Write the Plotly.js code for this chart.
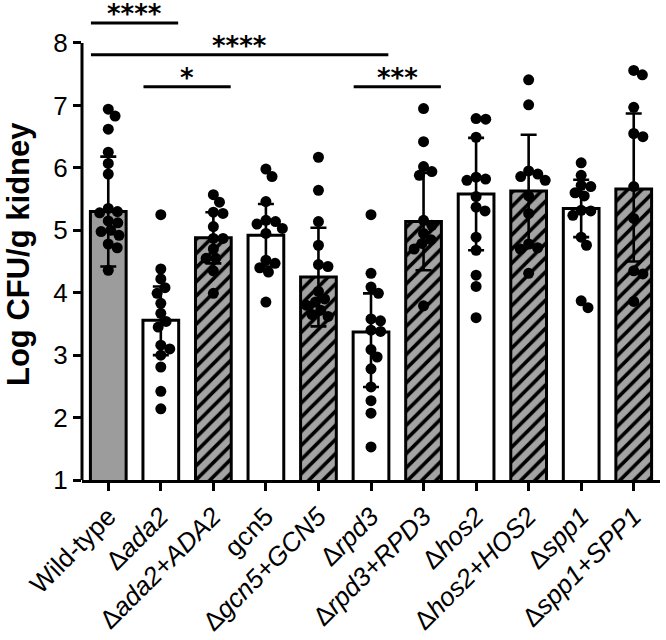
<!DOCTYPE html>
<html>
<head>
<meta charset="utf-8">
<script src="https://cdn.plot.ly/plotly-3.0.1.min.js"></script>
<style>html,body{margin:0;padding:0;background:#fff;}#chart{width:666px;height:640px;}</style>
</head>
<body>
<div id="chart"></div>
<script>
// ---------- data ----------
const strains = ['Wild-type','Δada2','Δada2+ADA2','gcn5','Δgcn5+GCN5','Δrpd3','Δrpd3+RPD3','Δhos2','Δhos2+HOS2','Δspp1','Δspp1+SPP1'];
const tickLabels = ['Wild-type','Δ<i>ada2</i>','Δ<i>ada2+ADA2</i>','gcn5','Δ<i>gcn5+GCN5</i>','Δ<i>rpd3</i>','Δ<i>rpd3+RPD3</i>','Δ<i>hos2</i>','Δ<i>hos2+HOS2</i>','Δ<i>spp1</i>','Δ<i>spp1+SPP1</i>'];
const strainKind = ['wt','del','comp','del','comp','del','comp','del','comp','del','comp'];
const means   = [5.30, 3.56, 4.88, 4.92, 4.25, 3.37, 5.14, 5.58, 5.63, 5.35, 5.66];
const sdUp    = [0.88, 0.54, 0.41, 0.50, 0.79, 0.62, 0.78, 0.90, 0.90, 0.46, 1.21];
const sdDown  = [0.88, 0.56, 0.41, 0.50, 0.79, 0.88, 0.78, 0.90, 0.90, 0.46, 1.16];

const ptsWildType = [6.94, 6.83, 6.62, 6.25, 6.07, 5.90, 5.35, 5.30, 5.28, 5.15, 5.12, 5.00, 4.98, 4.92, 4.78, 4.72, 4.36];
const ptsAda2     = [5.25, 4.38, 4.22, 4.08, 3.99, 3.83, 3.67, 3.54, 3.45, 3.16, 3.10, 3.00, 2.81, 2.42, 2.14];
const ptsAda2C    = [5.57, 5.45, 5.29, 5.27, 5.06, 4.87, 4.87, 4.70, 4.55, 4.55, 4.35, 3.99];
const ptsGcn5     = [5.98, 5.86, 5.46, 5.16, 5.14, 5.10, 5.03, 4.95, 4.52, 4.47, 4.40, 4.33, 3.85];
const ptsGcn5C    = [6.17, 5.64, 5.14, 4.76, 4.45, 4.42, 4.02, 3.90, 3.85, 3.80, 3.72, 3.65, 3.62];
const ptsRpd3     = [5.25, 4.31, 4.09, 3.99, 3.58, 3.55, 3.40, 3.38, 3.09, 2.97, 2.78, 2.49, 2.27, 2.07, 1.53];
const ptsRpd3C    = [6.95, 6.42, 6.02, 5.94, 5.88, 5.16, 5.08, 4.95, 4.85, 4.79, 4.70, 3.79];
const ptsHos2     = [6.79, 6.78, 6.49, 5.85, 5.82, 5.80, 5.54, 5.37, 5.31, 4.89, 4.68, 4.28, 4.10, 3.60];
const ptsHos2C    = [7.41, 7.01, 5.95, 5.90, 5.86, 5.80, 5.55, 5.27, 4.78, 4.72, 4.70, 4.31];
const ptsSpp1     = [6.08, 5.88, 5.72, 5.70, 5.60, 5.55, 5.32, 5.31, 5.24, 4.89, 4.76, 3.87, 3.76];
const ptsSpp1C    = [7.56, 7.49, 6.97, 6.55, 6.50, 5.70, 5.19, 4.35, 4.30, 3.86];
const points = [ptsWildType, ptsAda2, ptsAda2C, ptsGcn5, ptsGcn5C, ptsRpd3, ptsRpd3C, ptsHos2, ptsHos2C, ptsSpp1, ptsSpp1C];

// significance comparisons: [group a, group b], bracket level (log CFU), label
const sigPairs  = [[0,1],[0,5],[1,2],[5,6]];
const sigLevels = [8.32, 7.81, 7.30, 7.30];
const sigLabels = ['****','****','*','***'];

// ---------- layout constants ----------
const W = 666, H = 640;
const M = {l: 82, r: 6, t: 0, b: 160};
const plotW = W - M.l - M.r, plotH = H - M.t - M.b;
const xRange = [-0.5, strains.length - 0.5];
const pxPerUnitY = 62.43;
const yRange = [1, 1 + plotH / pxPerUnitY];
const pxPerUnitX = plotW / (xRange[1] - xRange[0]);
const barWidth = 0.68;
const dotD = 11;
const FONT = 'Liberation Sans, Arial, sans-serif';

// beeswarm layout (pixel space) to spread overlapping dots horizontally
function swarm(vals) {
  const placed = [], offs = [];
  const D = dotD * 0.88;
  vals.forEach(v => {
    const y = v * pxPerUnitY;
    const cands = [0];
    placed.forEach(p => {
      const dy = Math.abs(p.y - y);
      if (dy < D) { const dx = Math.sqrt(D * D - dy * dy); cands.push(p.x + dx, p.x - dx); }
    });
    cands.sort((a, b) => Math.abs(a) - Math.abs(b) || b - a);
    let best = 0;
    for (const c of cands) {
      if (placed.every(p => (p.x - c) ** 2 + (p.y - y) ** 2 >= D * D - 1e-6)) { best = c; break; }
    }
    placed.push({x: best, y});
    offs.push(best / pxPerUnitX);
  });
  return offs;
}

const idx = strains.map((_, i) => i);
const traces = [];
const kindStyle = {
  wt:   {color: '#9c9c9c'},
  del:  {color: '#ffffff'},
  comp: {color: '#a4a4a4', pattern: {shape: '/', fillmode: 'overlay', fgcolor: '#000', fgopacity: 1, size: 10, solidity: 0.36}}
};
['wt', 'del', 'comp'].forEach(kind => {
  const sel = idx.filter(i => strainKind[i] === kind);
  const st = kindStyle[kind];
  const marker = {color: st.color, line: {color: '#000', width: 3}};
  if (st.pattern) marker.pattern = st.pattern;
  traces.push({
    type: 'bar', x: sel, y: sel.map(i => means[i]), width: barWidth,
    marker,
    error_y: {type: 'data', symmetric: false, array: sel.map(i => sdUp[i]), arrayminus: sel.map(i => sdDown[i]),
              color: '#000', thickness: 2.6, width: 8},
    hoverinfo: 'skip', showlegend: false
  });
});

const px = [], py = [];
points.forEach((vals, i) => {
  const offs = swarm(vals);
  vals.forEach((v, k) => { px.push(i + offs[k]); py.push(v); });
});
traces.push({
  type: 'scatter', mode: 'markers', x: px, y: py,
  marker: {color: '#000', size: dotD, line: {width: 0}},
  hoverinfo: 'skip', showlegend: false, cliponaxis: false
});

const shapes = [{
  type: 'line', xref: 'paper', yref: 'y', x0: 0, x1: 0, y0: 1, y1: 8,
  line: {color: '#000', width: 3}
}];
const annotations = [];
sigPairs.forEach((pr, k) => {
  const x0 = pr[0] - 0.33, x1 = pr[1] + 0.33;
  shapes.push({type: 'line', xref: 'x', yref: 'y', x0, x1, y0: sigLevels[k], y1: sigLevels[k], line: {color: '#000', width: 3}});
  annotations.push({
    xref: 'x', yref: 'y', x: (x0 + x1) / 2, y: sigLevels[k], text: '<b>' + sigLabels[k] + '</b>',
    showarrow: false, xanchor: 'center', yanchor: 'bottom', yshift: -8,
    font: {family: 'DejaVu Sans, sans-serif', size: 26, color: '#000'}
  });
});
annotations.push({
  xref: 'paper', yref: 'y', x: -0.1107, y: 4.62, text: '<b>Log CFU/g kidney</b>', textangle: -90,
  showarrow: false, xanchor: 'center', yanchor: 'middle',
  font: {family: FONT, size: 31, color: '#000'}
});

const layout = {
  width: W, height: H, margin: M,
  paper_bgcolor: '#fff', plot_bgcolor: '#fff',
  font: {family: FONT, color: '#000'},
  xaxis: {
    range: xRange, tickmode: 'array', tickvals: idx, ticktext: tickLabels, tickangle: -45,
    ticks: 'outside', ticklen: 8, tickwidth: 3, tickcolor: '#000',
    showline: true, linewidth: 3, linecolor: '#000', showgrid: false, zeroline: false,
    tickfont: {size: 26, family: FONT, color: '#000'}
  },
  yaxis: {
    range: yRange, tickmode: 'array', tickvals: [1,2,3,4,5,6,7,8],
    ticks: 'outside', ticklen: 8, tickwidth: 3, tickcolor: '#000',
    showline: false, showgrid: false, zeroline: false,
    tickfont: {size: 26, family: FONT, color: '#000'}
  },
  shapes, annotations, bargap: 0
};

Plotly.newPlot('chart', traces, layout, {staticPlot: true, displayModeBar: false});
</script>
</body>
</html>
